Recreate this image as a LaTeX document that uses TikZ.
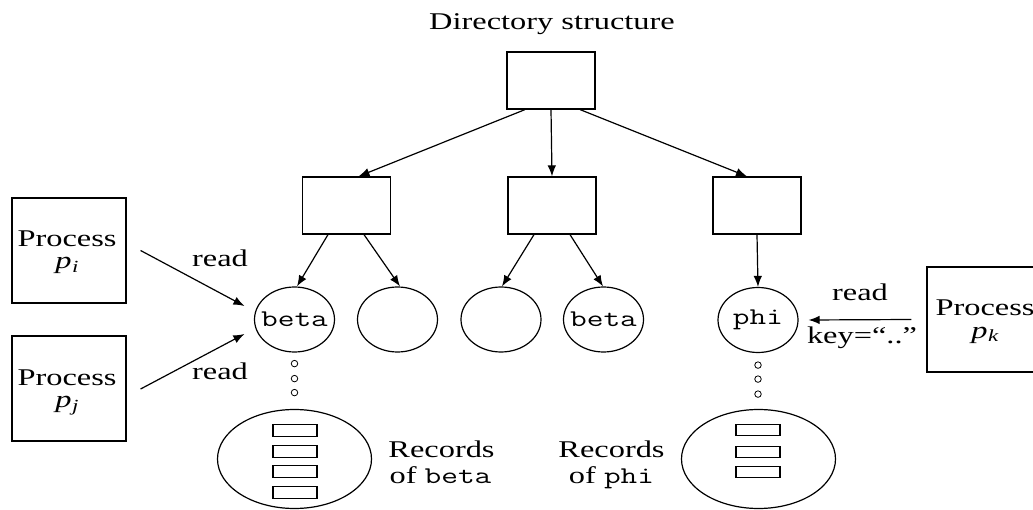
\documentclass[tikz,border=0pt]{standalone}
\usepackage{fontspec}
\setmainfont{Liberation Serif}
\usepackage{graphicx}
\usetikzlibrary{arrows.meta,shapes.geometric,calc}
\newcommand\xst[1]{\scalebox{1.35}[1]{#1}}
\newcommand\code[1]{{\fontsize{24}{24}\selectfont\ttfamily #1}}
\newcommand\procsub[1]{\textit{p}\kern0.5pt\raisebox{-4pt}{\fontsize{17}{17}\selectfont\textit{#1}}}
\begin{document}
\begin{tikzpicture}[x=1pt,y=-1pt,
  line width=1.2pt,
  dirbox/.style={draw, rectangle, minimum width=88pt, minimum height=57pt, inner sep=0pt},
  procbox/.style={draw, rectangle, minimum width=114pt, minimum height=105pt, inner sep=0pt},
  fnode/.style={draw, ellipse, minimum width=80pt, minimum height=65pt, inner sep=0pt},
  ftext/.style={inner sep=0pt, font=\fontsize{24}{24}\selectfont\ttfamily},
  recoval/.style={draw, ellipse, minimum width=154pt, minimum height=99pt, inner sep=0pt},
  recbar/.style={draw, rectangle, minimum width=44pt, minimum height=11.5pt, inner sep=0pt},
  seqdot/.style={draw, circle, minimum size=6.5pt, inner sep=0pt, line width=0.8pt},
  lbl/.style={font=\fontsize{24}{22}\selectfont, inner sep=0pt, anchor=base},
  arr/.style={-{Latex[length=11pt,width=8.5pt]}},
]
\path[use as bounding box] (0,0) rectangle (1033,510);
\clip (0,0) rectangle (1033,510);

% title and directory tree
\node[lbl] (title) at (552,30) {\xst{Directory structure}};
\node[dirbox] (root) at (551,80.5) {};
\node[dirbox] (d1) at (346.5,205.5) {};
\node[dirbox] (d2) at (552,205.5) {};
\node[dirbox] (d3) at (757,205.5) {};

\draw[arr] ($(root.south)+(-26,0)$) -- ($(d1.north)+(12,0)$);
\draw[arr] (root.south) -- (d2.north);
\draw[arr] ($(root.south)+(29,0)$) -- ($(d3.north)+(-10,0)$);

% file nodes
\node[fnode] (f1) at (294.5,319.5) {};
\node[fnode] (f2) at (397.5,319.5) {};
\node[fnode] (f3) at (501,319.5) {};
\node[fnode] (f4) at (603.5,319.5) {};
\node[fnode] (f5) at (758,320) {};
\node[ftext] (f1t) at (f1.center) {\xst{beta}};
\node[ftext] (f4t) at (f4.center) {\xst{beta}};
\node[ftext] (f5t) at (f5.center) {\xst{phi}};

\draw[arr] ($(d1.south)+(-18.5,0)$) -- ($(f1.north)+(2.5,0)$);
\draw[arr] ($(d1.south)+(17.5,0)$) -- ($(f2.north)+(2.5,0)$);
\draw[arr] ($(d2.south)+(-18,0)$) -- ($(f3.north)+(1,0)$);
\draw[arr] ($(d2.south)+(18,0)$) -- ($(f4.north)+(-0.5,0)$);
\draw[arr] (d3.south) -- (f5.north);

% processes
\node[procbox] (pi) at (69,250.5) {};
\node[procbox] (pj) at (69,388.5) {};
\node[procbox] (pk) at (984,319.5) {};
\node[lbl] (pit) at ($(pi.center)+(-2,-3.5)$) {\xst{Process}};
\node[lbl] (pis) at ($(pi.center)+(-2,18.5)$) {\xst{\procsub{i}}};
\node[lbl] (pjt) at ($(pj.center)+(-2,-3.5)$) {\xst{Process}};
\node[lbl] (pjs) at ($(pj.center)+(-2,18.5)$) {\xst{\procsub{j}}};
\node[lbl] (pkt) at ($(pk.center)+(1,-3.5)$) {\xst{Process}};
\node[lbl] (pks) at ($(pk.center)+(1,18.5)$) {\xst{\procsub{k}}};

% read accesses
\draw[arr] ($(pi.east)+(14,0)$) -- ($(f1.west)+(-9.5,-13.5)$);
\draw[arr] ($(pj.east)+(14,0.5)$) -- ($(f1.west)+(-9.5,14.5)$);
\draw[arr] ($(pk.west)+(-15,0)$) -- ($(f5.east)+(10,0)$);
\node[lbl] (r1) at (220,267) {\xst{read}};
\node[lbl] (r2) at (220,379) {\xst{read}};
\node[lbl] (r3) at (860,301) {\xst{read}};
\node[lbl] (key) at (862,344) {\xst{key=“..”}};

% dots
\node[seqdot] (b1) at ($(f1.south)+(0,11)$) {};
\node[seqdot] (b2) at ($(f1.south)+(0,26)$) {};
\node[seqdot] (b3) at ($(f1.south)+(0,40)$) {};
\node[seqdot] (h1) at ($(f5.south)+(0,12)$) {};
\node[seqdot] (h2) at ($(f5.south)+(0,26)$) {};
\node[seqdot] (h3) at ($(f5.south)+(0,41)$) {};

% records
\node[recoval] (rb) at (294.5,459) {};
\node[recoval] (rp) at (758.5,459) {};
\node[recbar] (rb1) at (295,430.5) {};
\node[recbar] (rb2) at (295,451.5) {};
\node[recbar] (rb3) at (295,471.5) {};
\node[recbar] (rb4) at (295,492.5) {};
\node[recbar] (rp1) at (758,430) {};
\node[recbar] (rp2) at (758,452) {};
\node[recbar] (rp3) at (758,472) {};

\node[lbl] (rbt1) at (441.5,457) {\xst{Records}};
\node[lbl] (rbt2) at (440.5,483) {\xst{of \code{beta}}};
\node[lbl] (rpt1) at (611.5,457) {\xst{Records}};
\node[lbl] (rpt2) at (611.5,483) {\xst{of \code{phi}}};
\end{tikzpicture}
\end{document}
